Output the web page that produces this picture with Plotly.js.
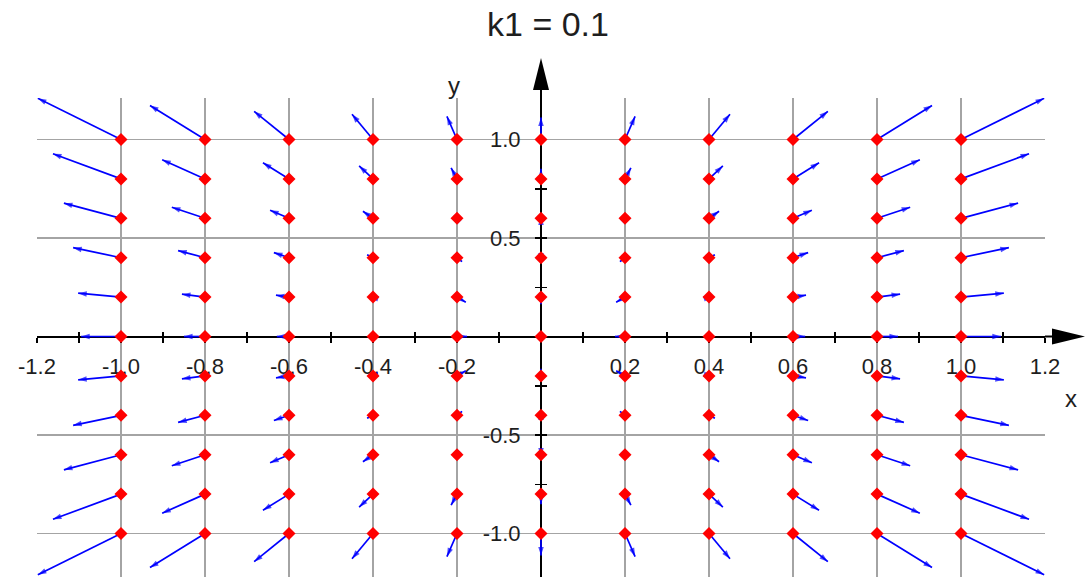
<!DOCTYPE html>
<html>
<head>
<meta charset="utf-8">
<script src="https://cdn.plot.ly/plotly-3.0.1.min.js"></script>
<style>
  html, body { margin: 0; padding: 0; background: #ffffff; }
  #chart { width: 1086px; height: 577px; }
</style>
</head>
<body>
<div id="chart"></div>
<script>
// Sample grid of the vector field
const xGrid = [-1.0, -0.8, -0.6, -0.4, -0.2, 0.0, 0.2, 0.4, 0.6, 0.8, 1.0];
const yGrid = [1.0, 0.8, 0.6, 0.4, 0.2, 0.0, -0.2, -0.4, -0.6, -0.8, -1.0];

// Horizontal arrow component, one row per y value (top to bottom)
const uRows = [
  [-0.198, -0.131, -0.083, -0.050, -0.024, 0, 0.024, 0.050, 0.083, 0.131, 0.198],
  [-0.162, -0.102, -0.062, -0.033, -0.014, 0, 0.014, 0.033, 0.062, 0.102, 0.162],
  [-0.136, -0.079, -0.045, -0.024, -0.007, 0, 0.007, 0.024, 0.045, 0.079, 0.136],
  [-0.114, -0.064, -0.036, -0.014, 0.012, 0, -0.012, 0.014, 0.036, 0.064, 0.114],
  [-0.102, -0.055, -0.031, -0.007, 0.021, 0, -0.021, 0.007, 0.031, 0.055, 0.102],
  [-0.095, -0.050, -0.029, -0.012, 0.024, 0, -0.024, 0.012, 0.029, 0.050, 0.095],
  [-0.102, -0.055, -0.031, -0.007, 0.021, 0, -0.021, 0.007, 0.031, 0.055, 0.102],
  [-0.114, -0.064, -0.036, -0.014, 0.012, 0, -0.012, 0.014, 0.036, 0.064, 0.114],
  [-0.136, -0.079, -0.045, -0.024, -0.007, 0, 0.007, 0.024, 0.045, 0.079, 0.136],
  [-0.162, -0.102, -0.062, -0.033, -0.014, 0, 0.014, 0.033, 0.062, 0.102, 0.162],
  [-0.198, -0.131, -0.083, -0.050, -0.024, 0, 0.024, 0.050, 0.083, 0.131, 0.198]
];

// Vertical arrow component, one row per y value (top to bottom)
const vRows = [
  [0.209, 0.173, 0.143, 0.128, 0.117, 0.112, 0.117, 0.128, 0.143, 0.173, 0.209],
  [0.128, 0.097, 0.082, 0.066, 0.056, 0.051, 0.056, 0.066, 0.082, 0.097, 0.128],
  [0.077, 0.056, 0.041, 0.036, 0.015, 0.010, 0.015, 0.036, 0.041, 0.056, 0.077],
  [0.051, 0.036, 0.026, 0.015, -0.020, -0.020, -0.020, 0.015, 0.026, 0.036, 0.051],
  [0.020, 0.015, 0.010, 0.005, -0.026, -0.036, -0.026, 0.005, 0.010, 0.015, 0.020],
  [0, 0, 0, 0, 0, 0, 0, 0, 0, 0, 0],
  [-0.020, -0.015, -0.010, -0.005, 0.026, 0.036, 0.026, -0.005, -0.010, -0.015, -0.020],
  [-0.051, -0.036, -0.026, -0.015, 0.020, 0.020, 0.020, -0.015, -0.026, -0.036, -0.051],
  [-0.077, -0.056, -0.041, -0.036, -0.015, -0.010, -0.015, -0.036, -0.041, -0.056, -0.077],
  [-0.128, -0.097, -0.082, -0.066, -0.056, -0.051, -0.056, -0.066, -0.082, -0.097, -0.128],
  [-0.209, -0.173, -0.143, -0.128, -0.117, -0.112, -0.117, -0.128, -0.143, -0.173, -0.209]
];

const xTickVals = [-1.2, -1.0, -0.8, -0.6, -0.4, -0.2, 0.2, 0.4, 0.6, 0.8, 1.0, 1.2];
const xTickText = ['-1.2', '-1.0', '-0.8', '-0.6', '-0.4', '-0.2', '0.2', '0.4', '0.6', '0.8', '1.0', '1.2'];
const yTickVals = [-1.0, -0.5, 0.5, 1.0];
const yTickText = ['-1.0', '-0.5', '0.5', '1.0'];
const titleText = 'k1 = 0.1';
const xLabel = 'x';
const yLabel = 'y';

// Page geometry
const W = 1086, H = 577;
const M = { l: 37, r: 41, t: 98, b: 0 };
const xRange = [-1.2, 1.2];
const yRange = [-1.2208, 1.2107];
const plotW = W - M.l - M.r, plotH = H - M.t - M.b;
const px2paperX = px => (px - M.l) / plotW;
const py2paperY = py => (H - M.b - py) / plotH;
const xAxisPos = (0 - yRange[0]) / (yRange[1] - yRange[0]);
const yAxisPos = (0 - xRange[0]) / (xRange[1] - xRange[0]);

// Build arrow segments and heads from the grid
const segX = [], segY = [], headX = [], headY = [], headS = [];
const dotX = [], dotY = [];
yGrid.forEach((y, i) => {
  xGrid.forEach((x, j) => {
    dotX.push(x); dotY.push(y);
    const u = uRows[i][j], v = vRows[i][j];
    if (u === 0 && v === 0) return;
    segX.push(x, x + u, null);
    segY.push(y, y + v, null);
    headX.push(x, x + u);
    headY.push(y, y + v);
    headS.push(0, 9);
  });
});

const fontFam = 'Liberation Sans, Arial, sans-serif';
const ink = '#1e1e1e';

const traces = [
  {
    type: 'scatter', mode: 'lines', x: segX, y: segY,
    line: { color: '#0000ff', width: 1.7 },
    hoverinfo: 'skip', showlegend: false, cliponaxis: false
  },
  {
    type: 'scatter', mode: 'markers', x: headX, y: headY,
    marker: { symbol: 'arrow', angleref: 'previous', size: headS, color: '#0000ff', line: { width: 0 } },
    hoverinfo: 'skip', showlegend: false, cliponaxis: false
  },
  {
    type: 'scatter', mode: 'markers', x: dotX, y: dotY,
    xaxis: 'x2', yaxis: 'y2',
    marker: { symbol: 'diamond', size: 10, color: '#ff0000', line: { width: 0 } },
    hoverinfo: 'skip', showlegend: false, cliponaxis: false
  }
];

const tickFont = { family: fontFam, size: 22, color: ink };

// Axis arrows extending past the plot area
const hw = 8;
const shapes = [
  { type: 'line', layer: 'below', xref: 'paper', yref: 'paper', x0: 1, x1: px2paperX(1060), y0: xAxisPos, y1: xAxisPos,
    line: { color: '#000', width: 2 } },
  { type: 'path', xref: 'paper', yref: 'paper', fillcolor: '#000', line: { width: 0 },
    path: `M ${px2paperX(1052)},${xAxisPos + hw / plotH} L ${px2paperX(1085)},${xAxisPos} L ${px2paperX(1052)},${xAxisPos - hw / plotH} Z` },
  { type: 'line', layer: 'below', xref: 'paper', yref: 'paper', x0: yAxisPos, x1: yAxisPos, y0: 1, y1: py2paperY(84),
    line: { color: '#000', width: 2 } },
  { type: 'path', xref: 'paper', yref: 'paper', fillcolor: '#000', line: { width: 0 },
    path: `M ${yAxisPos - hw / plotW},${py2paperY(90)} L ${yAxisPos},${py2paperY(58)} L ${yAxisPos + hw / plotW},${py2paperY(90)} Z` }
];

const minorX = (dir) => ({ tickmode: 'linear', tick0: 0, dtick: 0.1, ticks: dir, ticklen: 5, tickwidth: 1.5, tickcolor: '#000', showgrid: false });
const minorY = (dir) => ({ tickmode: 'linear', tick0: 0, dtick: 0.25, ticks: dir, ticklen: 5, tickwidth: 1.5, tickcolor: '#000', showgrid: false });

const layout = {
  width: W, height: H,
  margin: M,
  paper_bgcolor: '#ffffff', plot_bgcolor: '#ffffff',
  showlegend: false,
  title: {
    text: titleText, font: { family: fontFam, size: 34, color: ink },
    xref: 'container', yref: 'container', x: 548 / W, y: 1 - 24 / H,
    xanchor: 'center', yanchor: 'middle'
  },
  xaxis: {
    range: xRange, anchor: 'free', position: xAxisPos, layer: 'below traces',
    tickmode: 'array', tickvals: xTickVals, ticktext: xTickText,
    ticks: 'outside', ticklen: 5, tickwidth: 1.5, tickcolor: '#000',
    ticklabelstandoff: 5,
    tickfont: tickFont,
    showgrid: true, gridcolor: '#a4a4a4', gridwidth: 1.6,
    zeroline: false, showline: true, linecolor: '#000', linewidth: 2,
    minor: minorX('outside'),
    fixedrange: true
  },
  yaxis: {
    range: yRange, anchor: 'free', position: yAxisPos, layer: 'below traces',
    tickmode: 'array', tickvals: yTickVals, ticktext: yTickText,
    ticks: 'outside', ticklen: 5, tickwidth: 1.5, tickcolor: '#000',
    ticklabelstandoff: 10,
    tickfont: tickFont,
    showgrid: true, gridcolor: '#a4a4a4', gridwidth: 1.6,
    zeroline: false, showline: true, linecolor: '#000', linewidth: 2,
    minor: minorY('outside'),
    fixedrange: true
  },
  xaxis2: {
    range: xRange, overlaying: 'x', anchor: 'free', position: xAxisPos, layer: 'below traces',
    tickmode: 'array', tickvals: xTickVals,
    ticks: 'inside', ticklen: 5, tickwidth: 1.5, tickcolor: '#000',
    showticklabels: false, showgrid: false, zeroline: false, showline: false,
    minor: minorX('inside'),
    fixedrange: true
  },
  yaxis2: {
    range: yRange, overlaying: 'y', anchor: 'free', position: yAxisPos, layer: 'below traces',
    tickmode: 'array', tickvals: yTickVals,
    ticks: 'inside', ticklen: 5, tickwidth: 1.5, tickcolor: '#000',
    showticklabels: false, showgrid: false, zeroline: false, showline: false,
    minor: minorY('inside'),
    fixedrange: true
  },
  shapes: shapes,
  annotations: [
    { text: xLabel, xref: 'paper', yref: 'paper', x: px2paperX(1071), y: py2paperY(398),
      showarrow: false, xanchor: 'center', yanchor: 'middle', font: { family: fontFam, size: 24, color: ink } },
    { text: yLabel, xref: 'paper', yref: 'paper', x: px2paperX(454), y: py2paperY(86),
      showarrow: false, xanchor: 'center', yanchor: 'middle', font: { family: fontFam, size: 24, color: ink } }
  ]
};

Plotly.newPlot('chart', traces, layout, { displayModeBar: false, staticPlot: true });
</script>
</body>
</html>
